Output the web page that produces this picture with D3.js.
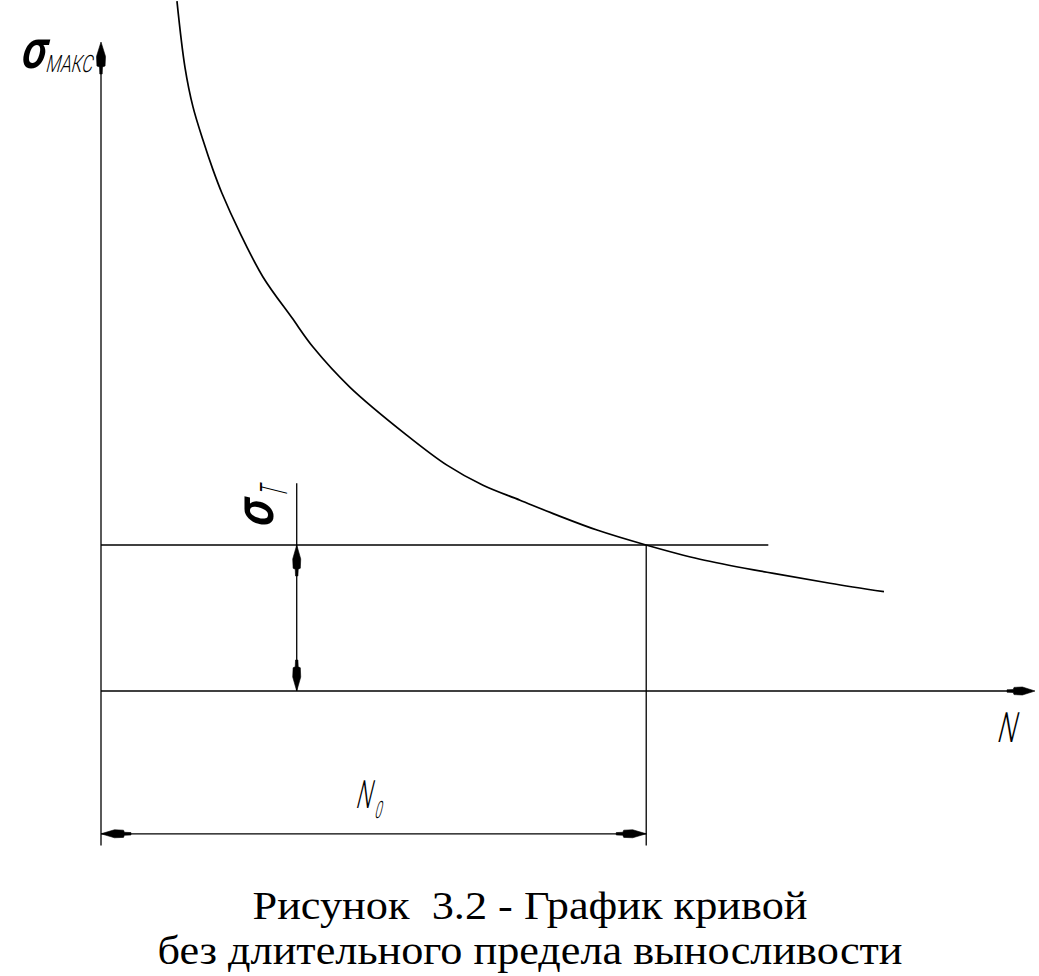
<!DOCTYPE html>
<html><head><meta charset="utf-8">
<script src="https://cdn.jsdelivr.net/npm/d3@7"></script>
<style>
html,body{margin:0;padding:0;background:#fff;}
svg{display:block;}
text{white-space:pre;}
</style></head>
<body>
<script>
// ---- data (N and sigma in arbitrary units, axes span 0..100) ----
const curveN     = [8.15, 9.01, 9.87, 10.94, 12.02, 12.98, 14.91, 17.38, 20.49, 22.75, 26.72, 32.83, 37.12, 40.99, 44.96, 48.93, 53.22, 58.48, 64.27, 71.46, 78.22, 84.01];
const curveSigma = [106.3, 96.1, 90.0, 84.9, 80.3, 76.7, 70.6, 63.8, 57.5, 53.0, 46.8, 39.4, 34.8, 31.7, 29.4, 27.1, 24.8, 22.5, 20.3, 18.3, 16.6, 15.3];
const N0 = 58.5;          // base number of cycles
const sigmaT = 22.5;      // yield stress level
const sigmaTLineEnd = 71.6;
const sigmaDimN = 21.0;
const sigmaDimTop = 32.0;
const captionLines = ["Рисунок  3.2 - График кривой", "без длительного предела выносливости"];

const W = 1039, H = 976;
const svg = d3.select("body").append("svg").attr("width", W).attr("height", H);

const x = d3.scaleLinear().domain([0, 100]).range([101, 1033]);
const y = d3.scaleLinear().domain([0, 100]).range([691, 42]);

const ink = "#000";
const lw = 1.3;

// axes lines
svg.append("line").attr("x1", x(0)).attr("x2", x(0)).attr("y1", y(100) + 10).attr("y2", y(-23.8))
  .attr("stroke", ink).attr("stroke-width", lw);
svg.append("line").attr("x1", x(0)).attr("x2", x(100) - 10).attr("y1", y(0)).attr("y2", y(0))
  .attr("stroke", ink).attr("stroke-width", lw);

// arrowhead helper: tip at (tx,ty), direction angle (deg), length L, half-width hw
function arrow(tx, ty, angle, L = 30, hw = 4.2) {
  const a = angle * Math.PI / 180;
  const ux = Math.cos(a), uy = Math.sin(a);
  const px = -uy, py = ux;
  const pts = [
    [tx, ty],
    [tx - ux * L * 0.45 + px * hw, ty - uy * L * 0.45 + py * hw],
    [tx - ux * L * 0.75 + px * hw * 0.9, ty - uy * L * 0.75 + py * hw * 0.9],
    [tx - ux * L * 0.78 + px * 1.5, ty - uy * L * 0.78 + py * 1.5],
    [tx - ux * L + px * 1.2, ty - uy * L + py * 1.2],
    [tx - ux * L - px * 1.2, ty - uy * L - py * 1.2],
    [tx - ux * L * 0.78 - px * 1.5, ty - uy * L * 0.78 - py * 1.5],
    [tx - ux * L * 0.75 - px * hw * 0.9, ty - uy * L * 0.75 - py * hw * 0.9],
    [tx - ux * L * 0.45 - px * hw, ty - uy * L * 0.45 - py * hw]
  ];
  svg.append("path").attr("d", d3.line()(pts) + "Z").attr("fill", ink).attr("stroke", ink).attr("stroke-width", 0.6);
}
arrow(x(0), y(100), -90, 32, 4.5);
arrow(x(100) + 2, y(0), 0, 28, 4);

// sigma_T horizontal line
svg.append("line").attr("x1", x(0)).attr("x2", x(sigmaTLineEnd)).attr("y1", y(sigmaT)).attr("y2", y(sigmaT))
  .attr("stroke", ink).attr("stroke-width", lw);
// N0 vertical line
svg.append("line").attr("x1", x(N0)).attr("x2", x(N0)).attr("y1", y(sigmaT)).attr("y2", y(-23.8))
  .attr("stroke", ink).attr("stroke-width", lw);

// sigma_T dimension
svg.append("line").attr("x1", x(sigmaDimN)).attr("x2", x(sigmaDimN)).attr("y1", y(sigmaDimTop)).attr("y2", y(0))
  .attr("stroke", ink).attr("stroke-width", lw);
arrow(x(sigmaDimN), y(sigmaT), -90, 31, 4);
arrow(x(sigmaDimN), y(0), 90, 31, 4);

// N0 dimension
const dimY = y(-22.0);
svg.append("line").attr("x1", x(0)).attr("x2", x(N0)).attr("y1", dimY).attr("y2", dimY)
  .attr("stroke", ink).attr("stroke-width", lw);
arrow(x(0), dimY, 180, 30, 4);
arrow(x(N0), dimY, 0, 30, 4);

// curve
const pts = curveN.map((n, i) => [x(n), y(curveSigma[i])]);
svg.append("path").attr("d", d3.line().curve(d3.curveCatmullRom.alpha(0.5))(pts))
  .attr("fill", "none").attr("stroke", ink).attr("stroke-width", 1.7);

// ---- labels (CAD-like font) ----
const cad = "Roboto";
function cadText(tx, ty, str, size, sx, weight, rot) {
  const g = svg.append("g").attr("transform", `translate(${tx},${ty}) rotate(${rot || 0}) skewX(-14) scale(${sx},1)`);
  g.append("text").attr("font-family", cad).attr("font-size", size).attr("font-weight", weight)
    .attr("fill", ink).text(str);
  return g;
}
// sigma MAKC
cadText(19, 68, "σ", 54, 0.8, 600);
cadText(45, 72, "МАКС", 24, 0.7, 300);
// sigma T (rotated)
cadText(273, 529, "σ", 54, 0.85, 600, -90);
cadText(287, 498, "T", 38, 0.42, 300, -90);
// N
cadText(996, 742, "N", 42, 0.62, 300);
// N0
cadText(355, 808, "N", 39, 0.55, 300);
cadText(374, 818, "0", 24, 0.5, 300);

// ---- caption (two lines) ----
const capFont = 40;
svg.append("text").attr("x", 530).attr("y", 919).attr("text-anchor", "middle")
  .attr("font-family", "Liberation Serif").attr("font-size", capFont).attr("fill", ink)
  .attr("textLength", 555).attr("lengthAdjust", "spacingAndGlyphs").text(captionLines[0]);
svg.append("text").attr("x", 530).attr("y", 964).attr("text-anchor", "middle")
  .attr("font-family", "Liberation Serif").attr("font-size", capFont).attr("fill", ink)
  .attr("textLength", 745).attr("lengthAdjust", "spacingAndGlyphs").text(captionLines[1]);
</script>
</body></html>
